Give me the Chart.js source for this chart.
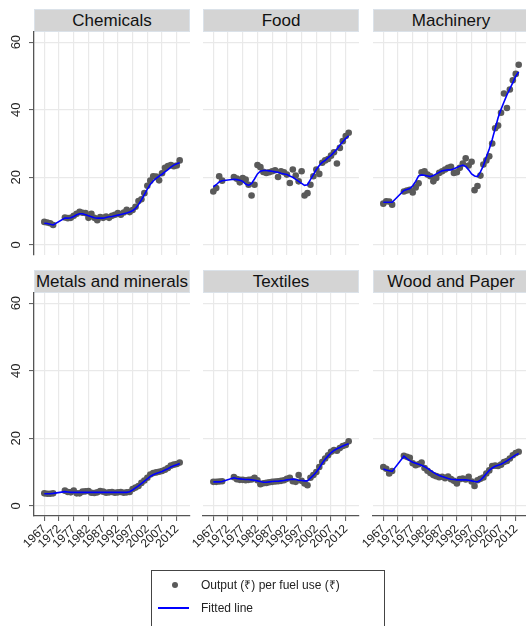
<!DOCTYPE html>
<html>
<head>
<meta charset="utf-8">
<script src="https://cdn.jsdelivr.net/npm/chart.js@4.4.1/dist/chart.umd.min.js"></script>
<style>
  html, body { margin: 0; padding: 0; background: #fff; overflow: hidden; }
  #page { position: relative; width: 526px; height: 626px; overflow: hidden;
          font-family: "Liberation Sans", Arial, sans-serif; }
  canvas.panel { position: absolute; left: 0; top: 0; }
  .strip { position: absolute; box-sizing: border-box; height: 23px; width: 156px;
           background: #d4d4d4; border: 1px solid #dbe2e9; display: flex;
           justify-content: center; align-items: center; font-size: 17px; color: #111;
           white-space: nowrap; }
  #legendBox { position: absolute; left: 151px; top: 570px; width: 234px; height: 80px;
               box-sizing: border-box; border: 1px solid #444; }
  .legText { position: absolute; left: 201px; font-size: 12px; line-height: 14px; color: #222;
             white-space: nowrap; }
  #legDot { position: absolute; left: 171.7px; top: 581.7px; width: 6.6px; height: 6.6px;
            border-radius: 50%; background: #5a5a5a; }
  #legLine { position: absolute; left: 158px; top: 607px; width: 31px; height: 1.6px; background: #0000ff; }
</style>
</head>
<body>
<div id="page"></div>
<script>
// Survey years (no observations for 1971-1973)
const years = [1967, 1968, 1969, 1970,
  1974, 1975, 1976, 1977, 1978, 1979,
  1980, 1981, 1982, 1983, 1984, 1985, 1986, 1987, 1988, 1989,
  1990, 1991, 1992, 1993, 1994, 1995, 1996, 1997, 1998, 1999,
  2000, 2001, 2002, 2003, 2004, 2005, 2006, 2007, 2008, 2009,
  2010, 2011, 2012, 2013];

const tickYears = [1967, 1972, 1977, 1982, 1987, 1992, 1997, 2002, 2007, 2012];
const yTicks = [0, 20, 40, 60];

const industries = ['Chemicals', 'Food', 'Machinery', 'Metals and minerals', 'Textiles', 'Wood and Paper'];

// Output per fuel use, by industry
const chemicalsOutput = [6.8, 6.6, 6.4, 5.9,
  8.1, 7.9, 8.0, 8.6, 9.2, 9.8,
  9.5, 9.4, 8.0, 9.2, 8.0, 7.3, 8.2, 8.0, 8.4, 8.0,
  8.6, 8.9, 9.4, 8.9, 9.6, 10.4, 9.7, 10.3, 11.3, 13.0,
  13.5, 15.3, 17.5, 19.0, 20.3, 20.2, 19.1, 21.2, 22.8, 23.3,
  23.6, 23.3, 23.5, 25.0];
const foodOutput = [15.8, 16.8, 20.3, 19.0,
  20.1, 19.6, 18.5, 19.8, 19.3, 17.8,
  14.6, 17.8, 23.6, 23.0, 21.6, 21.3, 21.5, 21.8, 22.1, 20.1,
  21.8, 21.5, 20.8, 18.3, 22.3, 20.5, 18.8, 21.8, 14.6, 15.3,
  17.8, 20.3, 22.3, 21.0, 24.3, 25.0, 25.4, 26.4, 27.4, 24.1,
  28.7, 30.7, 32.2, 33.2];
const machineryOutput = [12.2, 12.9, 12.8, 11.9,
  15.8, 16.1, 16.3, 15.5, 17.0, 18.2,
  21.5, 21.8, 20.8, 20.3, 18.8, 19.8, 21.3, 21.8, 22.3, 22.8,
  23.1, 21.3, 21.5, 22.8, 24.1, 25.6, 23.5, 24.6, 16.2, 17.4,
  20.5, 23.8, 25.0, 26.2, 30.0, 34.5, 35.3, 39.1, 44.8, 40.5,
  46.0, 48.7, 50.6, 53.3];
const metalsOutput = [3.7, 3.6, 3.6, 3.7,
  4.5, 4.1, 4.0, 4.5, 3.7, 3.7,
  4.2, 4.3, 4.4, 3.9, 3.8, 4.0, 4.4, 4.2, 3.9, 4.0,
  4.1, 3.9, 4.0, 4.1, 3.9, 4.0, 4.1, 5.0, 5.4, 5.9,
  6.8, 7.5, 8.3, 9.3, 9.7, 9.9, 10.1, 10.3, 10.7, 11.2,
  11.9, 12.2, 12.4, 12.8];
const textilesOutput = [7.1, 7.1, 7.2, 7.3,
  8.5, 7.9, 7.7, 7.7, 7.6, 7.7,
  7.8, 8.3, 7.6, 6.4, 6.7, 6.8, 7.0, 7.1, 7.2, 7.3,
  7.4, 7.6, 8.0, 8.3, 7.3, 7.1, 9.1, 7.4, 6.6, 6.1,
  8.3, 9.1, 10.0, 11.5, 13.0, 14.0, 15.0, 16.0, 16.5, 16.3,
  17.1, 17.7, 18.0, 19.1];
const woodOutput = [11.5, 11.0, 9.6, 10.3,
  14.8, 14.5, 14.2, 12.6, 12.0, 12.3,
  12.8, 11.2, 10.4, 9.7, 9.1, 8.8, 8.5, 8.6, 8.2, 8.7,
  7.9, 7.4, 6.6, 7.9, 8.1, 7.8, 8.6, 7.2, 5.9, 7.6,
  8.0, 8.4, 9.6, 10.5, 11.8, 11.9, 11.8, 12.2, 13.0, 13.3,
  14.0, 15.0, 15.6, 16.0];

// Smoothed (lowess) fit for each industry
const chemicalsFitted = [6.4, 6.3, 6.1, 5.9,
  7.9, 7.9, 8.0, 8.4, 8.9, 9.2,
  9.2, 8.9, 8.6, 8.3, 8.0, 7.9, 7.9, 7.9, 8.1, 8.3,
  8.4, 8.6, 8.8, 9.0, 9.2, 9.4, 9.7, 10.1, 10.8, 11.9,
  13.3, 14.9, 16.5, 17.9, 18.9, 19.7, 20.3, 20.9, 21.6, 22.3,
  23.0, 23.6, 24.0, 24.3];
const foodFitted = [17.2, 17.8, 18.6, 19.0,
  19.4, 19.3, 19.1, 18.8, 18.0, 17.6,
  18.2, 19.5, 21.0, 21.8, 22.0, 22.0, 21.9, 21.8, 21.6, 21.5,
  21.2, 21.0, 20.8, 20.4, 20.0, 19.4, 18.8, 18.2, 17.6, 17.8,
  19.3, 20.8, 22.3, 23.5, 24.4, 25.0, 25.8, 26.5, 27.4, 28.4,
  29.5, 30.5, 31.5, 32.3];
const machineryFitted = [12.6, 12.6, 12.6, 12.6,
  16.1, 16.4, 16.7, 17.5, 18.8, 20.4,
  20.7, 20.6, 20.4, 20.2, 20.5, 21.0, 21.5, 21.9, 22.1, 22.2,
  22.2, 22.5, 22.9, 23.3, 23.6, 23.2, 22.2, 21.0, 20.4, 20.2,
  21.6, 23.4, 26.0, 28.4, 31.2, 34.4, 37.6, 40.1, 42.3, 44.4,
  46.2, 48.0, 49.9, 51.2];
const metalsFitted = [3.6, 3.6, 3.6, 3.7,
  4.2, 4.1, 4.0, 4.0, 4.0, 4.0,
  4.0, 4.0, 4.0, 4.0, 4.0, 4.0, 4.0, 4.0, 4.0, 4.0,
  4.0, 4.0, 4.0, 4.0, 4.0, 4.0, 4.2, 4.7, 5.3, 5.9,
  6.6, 7.3, 8.0, 8.7, 9.2, 9.6, 9.9, 10.2, 10.6, 11.0,
  11.5, 11.9, 12.2, 12.5];
const textilesFitted = [7.1, 7.1, 7.1, 7.2,
  8.3, 8.1, 8.0, 7.9, 7.8, 7.8,
  7.7, 7.6, 7.4, 7.2, 7.0, 7.0, 7.1, 7.2, 7.3, 7.3,
  7.4, 7.5, 7.7, 7.8, 7.9, 7.8, 7.6, 7.5, 7.4, 7.4,
  8.2, 9.0, 10.0, 11.2, 12.6, 13.8, 14.8, 15.7, 16.4, 16.9,
  17.3, 17.7, 18.1, 18.4];
const woodFitted = [10.9, 10.6, 10.4, 10.2,
  14.7, 14.0, 13.4, 12.9, 12.6, 12.3,
  12.0, 11.6, 11.1, 10.5, 9.9, 9.4, 9.0, 8.7, 8.4, 8.1,
  7.9, 7.8, 7.7, 7.7, 7.7, 7.7, 7.6, 7.4, 7.2, 7.1,
  7.6, 8.5, 9.5, 10.5, 11.2, 11.7, 12.0, 12.3, 12.8, 13.3,
  13.9, 14.5, 15.1, 15.5];

const seriesLabels = ['Output (\u20B9) per fuel use (\u20B9)', 'Fitted line'];

const outputs = [chemicalsOutput, foodOutput, machineryOutput, metalsOutput, textilesOutput, woodOutput];
const fits = [chemicalsFitted, foodFitted, machineryFitted, metalsFitted, textilesFitted, woodFitted];

// ---- layout of the 2 x 3 grid (page pixels) ----
const CW = 540, CH = 626;
const colLeft = [34, 203, 373];
const rowTop = [32, 293];
const plotW = 156, plotH = 223;
const yAxisW = 34;
const xAxisH = 45;

Chart.defaults.font.family = '"Liberation Sans", Arial, sans-serif';
Chart.defaults.color = '#222';

const page = document.getElementById('page');
const GRID = '#e9e9e9';
const AXIS = '#555';

industries.forEach((name, i) => {
  const col = i % 3, row = Math.floor(i / 3);

  const strip = document.createElement('div');
  strip.className = 'strip';
  strip.style.left = colLeft[col] + 'px';
  strip.style.top = (rowTop[row] - 23) + 'px';
  strip.textContent = name;
  page.appendChild(strip);

  const cv = document.createElement('canvas');
  cv.className = 'panel';
  cv.width = CW; cv.height = CH;
  cv.style.width = CW + 'px'; cv.style.height = CH + 'px';
  page.appendChild(cv);

  const left = col === 0 ? 0 : colLeft[col];
  const right = CW - (colLeft[col] + plotW);
  const top = rowTop[row];
  const bottom = row === 0 ? CH - (rowTop[0] + plotH) : CH - (rowTop[1] + plotH) - xAxisH;

  const pts = years.map((y, k) => ({ x: y, y: outputs[i][k] }));
  const fit = years.map((y, k) => ({ x: y, y: fits[i][k] }));

  new Chart(cv, {
    type: 'scatter',
    data: {
      datasets: [
        { label: seriesLabels[1], data: fit, showLine: true, borderColor: '#0000ff',
          borderWidth: 1.6, pointRadius: 0, tension: 0, fill: false, order: 0 },
        { label: seriesLabels[0], data: pts, backgroundColor: '#5a5a5a', borderWidth: 0,
          pointRadius: 3.3, pointHoverRadius: 3.3, order: 1 }
      ]
    },
    options: {
      responsive: false,
      animation: false,
      devicePixelRatio: 1,
      layout: { padding: { left, right, top, bottom } },
      plugins: { legend: { display: false }, tooltip: { enabled: false } },
      scales: {
        x: {
          type: 'linear', position: 'bottom', min: 1963.5, max: 2016.5,
          afterBuildTicks: s => { s.ticks = tickYears.map(v => ({ value: v })); },
          afterFit: s => { s.height = row === 1 ? xAxisH : 0; },
          grid: { color: GRID, lineWidth: 1.2, drawTicks: row === 1, tickLength: 5, tickColor: AXIS, tickWidth: 1 },
          border: { display: row === 1, color: AXIS, width: 1.3 },
          ticks: { display: row === 1, autoSkip: false, minRotation: 45, maxRotation: 45, padding: 1,
                   font: { size: 12 }, color: '#222', callback: v => String(v) }
        },
        y: {
          type: 'linear', position: 'left', min: -3, max: 63,
          afterBuildTicks: s => { s.ticks = yTicks.map(v => ({ value: v })); },
          afterFit: s => { s.width = col === 0 ? yAxisW : 0; },
          grid: { color: GRID, lineWidth: 1.2, drawTicks: col === 0, tickLength: 5, tickColor: AXIS, tickWidth: 1 },
          border: { display: col === 0, color: AXIS, width: 1.3 },
          ticks: { display: col === 0, minRotation: 90, maxRotation: 90, crossAlign: 'center', padding: 5,
                   font: { size: 13 }, color: '#222', callback: v => String(v) }
        }
      }
    }
  });
});

// legend
const lb = document.createElement('div'); lb.id = 'legendBox'; page.appendChild(lb);
const ld = document.createElement('div'); ld.id = 'legDot'; page.appendChild(ld);
const lt1 = document.createElement('div'); lt1.className = 'legText'; lt1.style.top = '578px';
lt1.textContent = seriesLabels[0]; page.appendChild(lt1);
const ll = document.createElement('div'); ll.id = 'legLine'; page.appendChild(ll);
const lt2 = document.createElement('div'); lt2.className = 'legText'; lt2.style.top = '600.5px';
lt2.textContent = seriesLabels[1]; page.appendChild(lt2);
</script>
</body>
</html>
